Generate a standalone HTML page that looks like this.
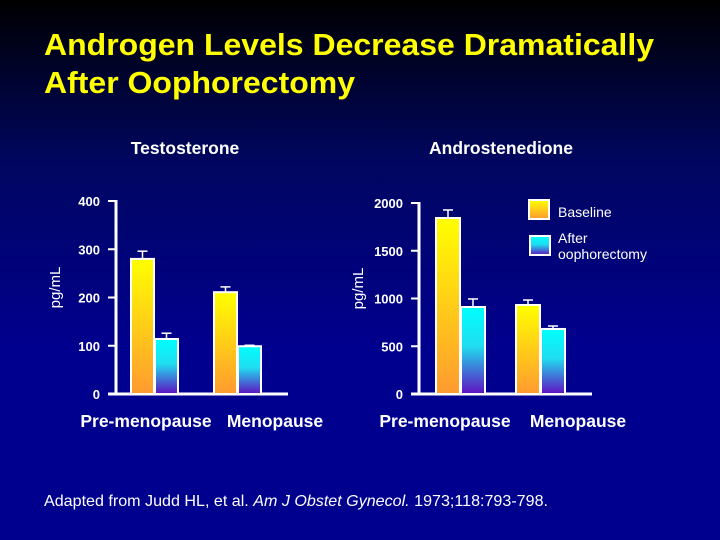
<!DOCTYPE html>
<html><head><meta charset="utf-8"><style>
html,body{margin:0;padding:0;width:720px;height:540px;overflow:hidden;background:#00008f}
svg{display:block;font-family:"Liberation Sans",Arial,sans-serif}
</style></head><body>
<svg id="s" width="720" height="540" viewBox="0 0 720 540">
<defs>
<linearGradient id="bg" x1="0" y1="0" x2="0" y2="1">
<stop offset="0" stop-color="#000000"/><stop offset="0.3" stop-color="#000660"/><stop offset="0.65" stop-color="#00008f"/><stop offset="1" stop-color="#00008f"/>
</linearGradient>
<linearGradient id="gy" x1="0" y1="0" x2="0" y2="1"><stop offset="0" stop-color="#ffff00"/><stop offset="1" stop-color="#ff9a30"/></linearGradient>
<linearGradient id="gc" x1="0" y1="0" x2="0" y2="1"><stop offset="0" stop-color="#00ffff"/><stop offset="0.45" stop-color="#20ddf0"/><stop offset="1" stop-color="#6010c0"/></linearGradient>
</defs>
<rect width="720" height="540" fill="url(#bg)"/>
<text x="44" y="55" font-size="31" font-weight="bold" fill="#ffff00" textLength="610" lengthAdjust="spacingAndGlyphs">Androgen Levels Decrease Dramatically</text>
<text x="44" y="93" font-size="31" font-weight="bold" fill="#ffff00" textLength="311" lengthAdjust="spacingAndGlyphs">After Oophorectomy</text>
<text x="185" y="154" font-size="17.5" font-weight="bold" fill="#fff" text-anchor="middle">Testosterone</text>
<text x="501" y="154" font-size="17.5" font-weight="bold" fill="#fff" text-anchor="middle">Androstenedione</text>
<g>
<rect x="529" y="200" width="20" height="19" fill="url(#gy)" stroke="#fff" stroke-width="2"/>
<text x="558" y="217" font-size="14" fill="#fff">Baseline</text>
<rect x="530" y="236" width="20" height="19" fill="url(#gc)" stroke="#fff" stroke-width="2"/>
<text x="558" y="243" font-size="14" fill="#fff">After</text>
<text x="558" y="259" font-size="14" fill="#fff" textLength="89" lengthAdjust="spacingAndGlyphs">oophorectomy</text>
</g>
<text x="44" y="506" font-size="16" fill="#fff" textLength="504" lengthAdjust="spacingAndGlyphs">Adapted from Judd HL, et al. <tspan font-style="italic">Am J Obstet Gynecol.</tspan> 1973;118:793-798.</text>
</svg>
<script>
const categories = ["Pre-menopause", "Menopause"];
const testoBaseline = [280, 211];
const testoBaselineErr = [296, 222];
const testoAfter = [114, 99];
const testoAfterErr = [126, 101];
const testoTicks = [0, 100, 200, 300, 400];
const androBaseline = [1843, 932];
const androBaselineErr = [1927, 984];
const androAfter = [911, 681];
const androAfterErr = [995, 712];
const androTicks = [0, 500, 1000, 1500, 2000];

const svg = document.getElementById('s');
const NS = 'http://www.w3.org/2000/svg';
function mk(tag, attrs, parent) {
  const e = document.createElementNS(NS, tag);
  for (const k in attrs) e.setAttribute(k, attrs[k]);
  (parent || svg).appendChild(e);
  return e;
}
function chart(cfg) {
  const g = mk('g', {});
  
  
  const max = cfg.ticks[cfg.ticks.length - 1];
  const y = v => cfg.y0 - (v / max) * (cfg.y0 - cfg.yTop);
  const ax = mk('line', {x1: cfg.axX, y1: y(max) - 1, x2: cfg.axX, y2: cfg.y0 + 1, stroke: '#fff', 'stroke-width': 3}, g);
  
  
  const xa = mk('line', {x1: cfg.axX - 8, y1: cfg.y0, x2: cfg.axEnd, y2: cfg.y0, stroke: '#fff', 'stroke-width': 3}, g);
  
  
  cfg.ticks.forEach(t => {
    const tk = mk('line', {x1: cfg.axX - 8, y1: y(t), x2: cfg.axX, y2: y(t), stroke: '#fff', 'stroke-width': 2}, g);
    
    
    const tl = mk('text', {x: cfg.axX - 16, y: y(t) + 5, 'font-size': 13, 'font-weight': 'bold', fill: '#fff', 'text-anchor': 'end'}, g);
    tl.textContent = t;
    
    
  });
  const yl = mk('text', {x: 0, y: 0, 'font-size': 15, fill: '#fff', 'text-anchor': 'middle', transform: `translate(${cfg.axX - 56},${(cfg.y0 + cfg.yTop) / 2 - 10}) rotate(-90)`}, g);
  yl.textContent = 'pg/mL';
  
  
  categories.forEach((c, i) => {
    const gx = cfg.groupX[i];
    const series = [[cfg.base, cfg.baseErr, 'url(#gy)', 'baseline'], [cfg.after, cfg.afterErr, 'url(#gc)', 'after']];
    series.forEach((s, j) => {
      const x = gx + j * (cfg.bw + 1);
      const e = mk('line', {x1: x + cfg.bw / 2, y1: y(s[1][i]), x2: x + cfg.bw / 2, y2: y(s[0][i]), stroke: '#fff', 'stroke-width': 1.5}, g);
      
      
      const ec = mk('line', {x1: x + cfg.bw / 2 - 5, y1: y(s[1][i]), x2: x + cfg.bw / 2 + 5, y2: y(s[1][i]), stroke: '#fff', 'stroke-width': 1.5}, g);
      
      
      const r = mk('rect', {x: x, y: y(s[0][i]), width: cfg.bw, height: cfg.y0 - y(s[0][i]), fill: s[2], stroke: '#fff', 'stroke-width': 2}, g);
      
      
    });
    const cl = mk('text', {x: cfg.labelX[i], y: 427, 'font-size': 17.5, 'font-weight': 'bold', fill: '#fff', 'text-anchor': 'middle'}, g);
    cl.textContent = c;
    
    
  });
}
chart({name: 'testosterone-chart', axX: 116, axEnd: 288, y0: 394, yTop: 201, ticks: testoTicks,
  base: testoBaseline, baseErr: testoBaselineErr, after: testoAfter, afterErr: testoAfterErr,
  groupX: [131, 214], bw: 23, labelX: [146, 275]});
chart({name: 'androstenedione-chart', axX: 419, axEnd: 592, y0: 394, yTop: 203, ticks: androTicks,
  base: androBaseline, baseErr: androBaselineErr, after: androAfter, afterErr: androAfterErr,
  groupX: [436, 516], bw: 24, labelX: [445, 578]});
</script>
</body></html>
